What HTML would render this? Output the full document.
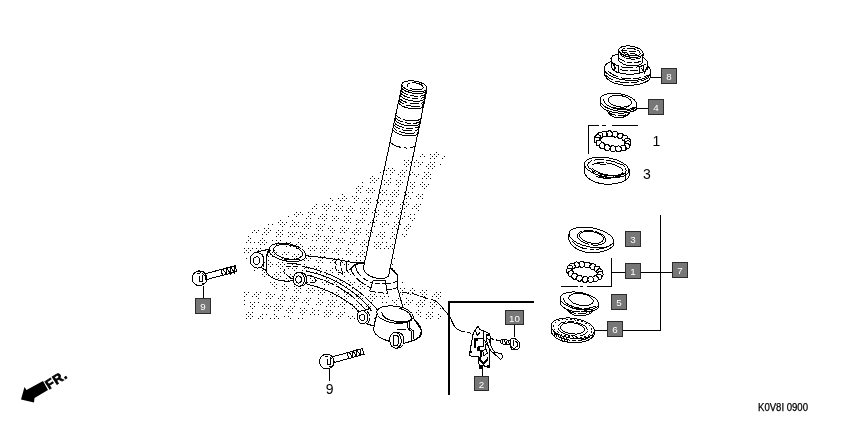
<!DOCTYPE html>
<html><head><meta charset="utf-8"><title>Steering stem</title>
<style>
html,body{margin:0;padding:0;background:#fff;width:842px;height:421px;overflow:hidden}
svg{display:block;filter:grayscale(1)}
text{font-family:"Liberation Sans",sans-serif}
.l{fill:none;stroke:#000;stroke-width:1}
.t{fill:none;stroke:#000;stroke-width:1.6}
.w{fill:#fff;stroke:#000;stroke-width:1}
.wf{fill:#fff;stroke:none}
.d{fill:none;stroke:#000;stroke-width:1;stroke-dasharray:4 2}
.box{fill:#777;stroke:#2a2a2a;stroke-width:1}
.bt{fill:#fff;font-size:9.8px;text-anchor:middle}
.n{fill:#000;font-size:14px;text-anchor:middle}
</style></head>
<body>
<svg width="842" height="421" viewBox="0 0 842 421">
<rect width="842" height="421" fill="#fff"/>

<!-- stipple shading -->
<g id="dots" shape-rendering="crispEdges">
<path fill="#000" d="M436 152h1v1h-1zM422 154h1v1h-1zM430 154h1v1h-1zM434 154h1v1h-1zM438 154h1v1h-1zM420 156h1v1h-1zM424 156h1v1h-1zM432 156h1v1h-1zM436 156h1v1h-1zM444 156h1v1h-1zM430 158h1v1h-1zM434 158h1v1h-1zM442 158h1v1h-1zM404 160h1v1h-1zM408 160h1v1h-1zM416 160h1v1h-1zM406 162h1v1h-1zM410 162h1v1h-1zM414 162h1v1h-1zM418 162h1v1h-1zM422 162h1v1h-1zM430 162h1v1h-1zM434 162h1v1h-1zM404 164h1v1h-1zM408 164h1v1h-1zM420 164h1v1h-1zM428 164h1v1h-1zM432 164h1v1h-1zM440 164h1v1h-1zM406 166h1v1h-1zM414 166h1v1h-1zM418 166h1v1h-1zM426 166h1v1h-1zM430 166h1v1h-1zM434 166h1v1h-1zM388 168h1v1h-1zM392 168h1v1h-1zM428 168h1v1h-1zM432 168h1v1h-1zM386 170h1v1h-1zM390 170h1v1h-1zM394 170h1v1h-1zM402 170h1v1h-1zM406 170h1v1h-1zM380 172h1v1h-1zM392 172h1v1h-1zM400 172h1v1h-1zM404 172h1v1h-1zM412 172h1v1h-1zM424 172h1v1h-1zM428 172h1v1h-1zM386 174h1v1h-1zM390 174h1v1h-1zM398 174h1v1h-1zM402 174h1v1h-1zM410 174h1v1h-1zM414 174h1v1h-1zM418 174h1v1h-1zM426 174h1v1h-1zM430 174h1v1h-1zM372 176h1v1h-1zM400 176h1v1h-1zM404 176h1v1h-1zM416 176h1v1h-1zM424 176h1v1h-1zM428 176h1v1h-1zM370 178h1v1h-1zM374 178h1v1h-1zM378 178h1v1h-1zM390 178h1v1h-1zM422 178h1v1h-1zM426 178h1v1h-1zM430 178h1v1h-1zM372 180h1v1h-1zM376 180h1v1h-1zM384 180h1v1h-1zM388 180h1v1h-1zM396 180h1v1h-1zM400 180h1v1h-1zM362 182h1v1h-1zM370 182h1v1h-1zM374 182h1v1h-1zM386 182h1v1h-1zM390 182h1v1h-1zM398 182h1v1h-1zM402 182h1v1h-1zM410 182h1v1h-1zM414 182h1v1h-1zM422 182h1v1h-1zM384 184h1v1h-1zM388 184h1v1h-1zM396 184h1v1h-1zM400 184h1v1h-1zM412 184h1v1h-1zM420 184h1v1h-1zM424 184h1v1h-1zM428 184h1v1h-1zM358 186h1v1h-1zM362 186h1v1h-1zM398 186h1v1h-1zM410 186h1v1h-1zM414 186h1v1h-1zM422 186h1v1h-1zM426 186h1v1h-1zM356 188h1v1h-1zM360 188h1v1h-1zM368 188h1v1h-1zM372 188h1v1h-1zM380 188h1v1h-1zM412 188h1v1h-1zM424 188h1v1h-1zM358 190h1v1h-1zM366 190h1v1h-1zM370 190h1v1h-1zM374 190h1v1h-1zM382 190h1v1h-1zM386 190h1v1h-1zM394 190h1v1h-1zM398 190h1v1h-1zM356 192h1v1h-1zM360 192h1v1h-1zM368 192h1v1h-1zM372 192h1v1h-1zM380 192h1v1h-1zM384 192h1v1h-1zM392 192h1v1h-1zM396 192h1v1h-1zM404 192h1v1h-1zM408 192h1v1h-1zM412 192h1v1h-1zM342 194h1v1h-1zM378 194h1v1h-1zM382 194h1v1h-1zM386 194h1v1h-1zM390 194h1v1h-1zM394 194h1v1h-1zM398 194h1v1h-1zM406 194h1v1h-1zM418 194h1v1h-1zM422 194h1v1h-1zM344 196h1v1h-1zM352 196h1v1h-1zM356 196h1v1h-1zM392 196h1v1h-1zM396 196h1v1h-1zM404 196h1v1h-1zM408 196h1v1h-1zM416 196h1v1h-1zM420 196h1v1h-1zM330 198h1v1h-1zM338 198h1v1h-1zM342 198h1v1h-1zM346 198h1v1h-1zM354 198h1v1h-1zM358 198h1v1h-1zM366 198h1v1h-1zM370 198h1v1h-1zM378 198h1v1h-1zM406 198h1v1h-1zM410 198h1v1h-1zM418 198h1v1h-1zM422 198h1v1h-1zM332 200h1v1h-1zM340 200h1v1h-1zM344 200h1v1h-1zM356 200h1v1h-1zM364 200h1v1h-1zM368 200h1v1h-1zM376 200h1v1h-1zM380 200h1v1h-1zM384 200h1v1h-1zM388 200h1v1h-1zM392 200h1v1h-1zM354 202h1v1h-1zM362 202h1v1h-1zM366 202h1v1h-1zM370 202h1v1h-1zM378 202h1v1h-1zM382 202h1v1h-1zM390 202h1v1h-1zM394 202h1v1h-1zM402 202h1v1h-1zM406 202h1v1h-1zM316 204h1v1h-1zM324 204h1v1h-1zM328 204h1v1h-1zM336 204h1v1h-1zM368 204h1v1h-1zM376 204h1v1h-1zM380 204h1v1h-1zM388 204h1v1h-1zM392 204h1v1h-1zM400 204h1v1h-1zM404 204h1v1h-1zM408 204h1v1h-1zM416 204h1v1h-1zM420 204h1v1h-1zM314 206h1v1h-1zM322 206h1v1h-1zM326 206h1v1h-1zM330 206h1v1h-1zM338 206h1v1h-1zM342 206h1v1h-1zM350 206h1v1h-1zM386 206h1v1h-1zM390 206h1v1h-1zM402 206h1v1h-1zM406 206h1v1h-1zM414 206h1v1h-1zM418 206h1v1h-1zM312 208h1v1h-1zM316 208h1v1h-1zM324 208h1v1h-1zM328 208h1v1h-1zM336 208h1v1h-1zM340 208h1v1h-1zM348 208h1v1h-1zM352 208h1v1h-1zM360 208h1v1h-1zM364 208h1v1h-1zM368 208h1v1h-1zM400 208h1v1h-1zM404 208h1v1h-1zM412 208h1v1h-1zM416 208h1v1h-1zM326 210h1v1h-1zM334 210h1v1h-1zM338 210h1v1h-1zM342 210h1v1h-1zM346 210h1v1h-1zM350 210h1v1h-1zM354 210h1v1h-1zM362 210h1v1h-1zM366 210h1v1h-1zM374 210h1v1h-1zM378 210h1v1h-1zM386 210h1v1h-1zM418 210h1v1h-1zM296 212h1v1h-1zM300 212h1v1h-1zM308 212h1v1h-1zM312 212h1v1h-1zM348 212h1v1h-1zM352 212h1v1h-1zM360 212h1v1h-1zM364 212h1v1h-1zM372 212h1v1h-1zM376 212h1v1h-1zM384 212h1v1h-1zM388 212h1v1h-1zM392 212h1v1h-1zM400 212h1v1h-1zM404 212h1v1h-1zM294 214h1v1h-1zM298 214h1v1h-1zM302 214h1v1h-1zM310 214h1v1h-1zM314 214h1v1h-1zM322 214h1v1h-1zM326 214h1v1h-1zM362 214h1v1h-1zM366 214h1v1h-1zM374 214h1v1h-1zM378 214h1v1h-1zM386 214h1v1h-1zM390 214h1v1h-1zM398 214h1v1h-1zM410 214h1v1h-1zM414 214h1v1h-1zM288 216h1v1h-1zM296 216h1v1h-1zM308 216h1v1h-1zM320 216h1v1h-1zM324 216h1v1h-1zM332 216h1v1h-1zM336 216h1v1h-1zM344 216h1v1h-1zM348 216h1v1h-1zM376 216h1v1h-1zM384 216h1v1h-1zM388 216h1v1h-1zM396 216h1v1h-1zM404 216h1v1h-1zM408 216h1v1h-1zM306 218h1v1h-1zM310 218h1v1h-1zM318 218h1v1h-1zM322 218h1v1h-1zM326 218h1v1h-1zM334 218h1v1h-1zM338 218h1v1h-1zM346 218h1v1h-1zM350 218h1v1h-1zM362 218h1v1h-1zM398 218h1v1h-1zM402 218h1v1h-1zM410 218h1v1h-1zM414 218h1v1h-1zM280 220h1v1h-1zM292 220h1v1h-1zM324 220h1v1h-1zM332 220h1v1h-1zM336 220h1v1h-1zM344 220h1v1h-1zM348 220h1v1h-1zM356 220h1v1h-1zM360 220h1v1h-1zM364 220h1v1h-1zM372 220h1v1h-1zM376 220h1v1h-1zM412 220h1v1h-1zM278 222h1v1h-1zM282 222h1v1h-1zM286 222h1v1h-1zM294 222h1v1h-1zM298 222h1v1h-1zM306 222h1v1h-1zM310 222h1v1h-1zM346 222h1v1h-1zM350 222h1v1h-1zM358 222h1v1h-1zM362 222h1v1h-1zM370 222h1v1h-1zM374 222h1v1h-1zM382 222h1v1h-1zM386 222h1v1h-1zM394 222h1v1h-1zM398 222h1v1h-1zM268 224h1v1h-1zM272 224h1v1h-1zM280 224h1v1h-1zM284 224h1v1h-1zM292 224h1v1h-1zM296 224h1v1h-1zM304 224h1v1h-1zM308 224h1v1h-1zM316 224h1v1h-1zM320 224h1v1h-1zM324 224h1v1h-1zM356 224h1v1h-1zM368 224h1v1h-1zM372 224h1v1h-1zM380 224h1v1h-1zM384 224h1v1h-1zM388 224h1v1h-1zM396 224h1v1h-1zM400 224h1v1h-1zM408 224h1v1h-1zM282 226h1v1h-1zM290 226h1v1h-1zM294 226h1v1h-1zM298 226h1v1h-1zM302 226h1v1h-1zM306 226h1v1h-1zM310 226h1v1h-1zM318 226h1v1h-1zM322 226h1v1h-1zM330 226h1v1h-1zM342 226h1v1h-1zM374 226h1v1h-1zM382 226h1v1h-1zM394 226h1v1h-1zM398 226h1v1h-1zM406 226h1v1h-1zM410 226h1v1h-1zM264 228h1v1h-1zM268 228h1v1h-1zM304 228h1v1h-1zM308 228h1v1h-1zM316 228h1v1h-1zM320 228h1v1h-1zM328 228h1v1h-1zM332 228h1v1h-1zM340 228h1v1h-1zM344 228h1v1h-1zM348 228h1v1h-1zM356 228h1v1h-1zM360 228h1v1h-1zM392 228h1v1h-1zM396 228h1v1h-1zM404 228h1v1h-1zM408 228h1v1h-1zM254 230h1v1h-1zM258 230h1v1h-1zM266 230h1v1h-1zM270 230h1v1h-1zM278 230h1v1h-1zM282 230h1v1h-1zM318 230h1v1h-1zM322 230h1v1h-1zM330 230h1v1h-1zM334 230h1v1h-1zM342 230h1v1h-1zM346 230h1v1h-1zM354 230h1v1h-1zM358 230h1v1h-1zM366 230h1v1h-1zM370 230h1v1h-1zM406 230h1v1h-1zM252 232h1v1h-1zM256 232h1v1h-1zM264 232h1v1h-1zM268 232h1v1h-1zM276 232h1v1h-1zM280 232h1v1h-1zM288 232h1v1h-1zM292 232h1v1h-1zM296 232h1v1h-1zM300 232h1v1h-1zM332 232h1v1h-1zM340 232h1v1h-1zM344 232h1v1h-1zM352 232h1v1h-1zM356 232h1v1h-1zM360 232h1v1h-1zM368 232h1v1h-1zM372 232h1v1h-1zM380 232h1v1h-1zM384 232h1v1h-1zM392 232h1v1h-1zM262 234h1v1h-1zM266 234h1v1h-1zM278 234h1v1h-1zM282 234h1v1h-1zM290 234h1v1h-1zM294 234h1v1h-1zM302 234h1v1h-1zM306 234h1v1h-1zM314 234h1v1h-1zM318 234h1v1h-1zM354 234h1v1h-1zM358 234h1v1h-1zM366 234h1v1h-1zM370 234h1v1h-1zM378 234h1v1h-1zM382 234h1v1h-1zM394 234h1v1h-1zM402 234h1v1h-1zM406 234h1v1h-1zM248 236h1v1h-1zM276 236h1v1h-1zM280 236h1v1h-1zM288 236h1v1h-1zM292 236h1v1h-1zM300 236h1v1h-1zM304 236h1v1h-1zM312 236h1v1h-1zM316 236h1v1h-1zM320 236h1v1h-1zM324 236h1v1h-1zM328 236h1v1h-1zM332 236h1v1h-1zM368 236h1v1h-1zM376 236h1v1h-1zM380 236h1v1h-1zM384 236h1v1h-1zM392 236h1v1h-1zM396 236h1v1h-1zM404 236h1v1h-1zM250 238h1v1h-1zM262 238h1v1h-1zM298 238h1v1h-1zM302 238h1v1h-1zM306 238h1v1h-1zM318 238h1v1h-1zM326 238h1v1h-1zM330 238h1v1h-1zM338 238h1v1h-1zM342 238h1v1h-1zM350 238h1v1h-1zM354 238h1v1h-1zM382 238h1v1h-1zM390 238h1v1h-1zM394 238h1v1h-1zM248 240h1v1h-1zM260 240h1v1h-1zM264 240h1v1h-1zM272 240h1v1h-1zM276 240h1v1h-1zM280 240h1v1h-1zM312 240h1v1h-1zM316 240h1v1h-1zM324 240h1v1h-1zM328 240h1v1h-1zM336 240h1v1h-1zM340 240h1v1h-1zM344 240h1v1h-1zM356 240h1v1h-1zM364 240h1v1h-1zM368 240h1v1h-1zM246 242h1v1h-1zM250 242h1v1h-1zM254 242h1v1h-1zM258 242h1v1h-1zM262 242h1v1h-1zM266 242h1v1h-1zM278 242h1v1h-1zM286 242h1v1h-1zM290 242h1v1h-1zM298 242h1v1h-1zM326 242h1v1h-1zM330 242h1v1h-1zM338 242h1v1h-1zM342 242h1v1h-1zM350 242h1v1h-1zM354 242h1v1h-1zM362 242h1v1h-1zM366 242h1v1h-1zM374 242h1v1h-1zM378 242h1v1h-1zM382 242h1v1h-1zM386 242h1v1h-1zM260 244h1v1h-1zM264 244h1v1h-1zM272 244h1v1h-1zM276 244h1v1h-1zM284 244h1v1h-1zM288 244h1v1h-1zM296 244h1v1h-1zM300 244h1v1h-1zM348 244h1v1h-1zM352 244h1v1h-1zM360 244h1v1h-1zM364 244h1v1h-1zM368 244h1v1h-1zM376 244h1v1h-1zM380 244h1v1h-1zM392 244h1v1h-1zM270 246h1v1h-1zM286 246h1v1h-1zM290 246h1v1h-1zM298 246h1v1h-1zM302 246h1v1h-1zM310 246h1v1h-1zM314 246h1v1h-1zM322 246h1v1h-1zM326 246h1v1h-1zM362 246h1v1h-1zM366 246h1v1h-1zM374 246h1v1h-1zM378 246h1v1h-1zM386 246h1v1h-1zM390 246h1v1h-1zM244 248h1v1h-1zM248 248h1v1h-1zM252 248h1v1h-1zM256 248h1v1h-1zM260 248h1v1h-1zM296 248h1v1h-1zM300 248h1v1h-1zM308 248h1v1h-1zM312 248h1v1h-1zM316 248h1v1h-1zM320 248h1v1h-1zM324 248h1v1h-1zM328 248h1v1h-1zM336 248h1v1h-1zM340 248h1v1h-1zM348 248h1v1h-1zM376 248h1v1h-1zM380 248h1v1h-1zM384 248h1v1h-1zM388 248h1v1h-1zM392 248h1v1h-1zM246 250h1v1h-1zM250 250h1v1h-1zM258 250h1v1h-1zM262 250h1v1h-1zM270 250h1v1h-1zM274 250h1v1h-1zM310 250h1v1h-1zM314 250h1v1h-1zM322 250h1v1h-1zM326 250h1v1h-1zM334 250h1v1h-1zM338 250h1v1h-1zM346 250h1v1h-1zM350 250h1v1h-1zM362 250h1v1h-1zM244 252h1v1h-1zM248 252h1v1h-1zM268 252h1v1h-1zM272 252h1v1h-1zM276 252h1v1h-1zM284 252h1v1h-1zM288 252h1v1h-1zM320 252h1v1h-1zM324 252h1v1h-1zM332 252h1v1h-1zM336 252h1v1h-1zM348 252h1v1h-1zM352 252h1v1h-1zM360 252h1v1h-1zM364 252h1v1h-1zM270 254h1v1h-1zM274 254h1v1h-1zM282 254h1v1h-1zM286 254h1v1h-1zM294 254h1v1h-1zM298 254h1v1h-1zM310 254h1v1h-1zM338 254h1v1h-1zM346 254h1v1h-1zM350 254h1v1h-1zM358 254h1v1h-1zM362 254h1v1h-1zM268 256h1v1h-1zM272 256h1v1h-1zM280 256h1v1h-1zM292 256h1v1h-1zM296 256h1v1h-1zM300 256h1v1h-1zM308 256h1v1h-1zM312 256h1v1h-1zM320 256h1v1h-1zM324 256h1v1h-1zM356 256h1v1h-1zM360 256h1v1h-1zM364 256h1v1h-1zM246 258h1v1h-1zM282 258h1v1h-1zM286 258h1v1h-1zM294 258h1v1h-1zM298 258h1v1h-1zM306 258h1v1h-1zM310 258h1v1h-1zM322 258h1v1h-1zM330 258h1v1h-1zM334 258h1v1h-1zM338 258h1v1h-1zM342 258h1v1h-1zM394 258h1v1h-1zM268 260h1v1h-1zM304 260h1v1h-1zM308 260h1v1h-1zM316 260h1v1h-1zM320 260h1v1h-1zM332 260h1v1h-1zM336 260h1v1h-1zM344 260h1v1h-1zM348 260h1v1h-1zM356 260h1v1h-1zM360 260h1v1h-1zM266 262h1v1h-1zM270 262h1v1h-1zM278 262h1v1h-1zM282 262h1v1h-1zM318 262h1v1h-1zM322 262h1v1h-1zM330 262h1v1h-1zM334 262h1v1h-1zM342 262h1v1h-1zM346 262h1v1h-1zM354 262h1v1h-1zM358 262h1v1h-1zM362 262h1v1h-1zM264 264h1v1h-1zM268 264h1v1h-1zM272 264h1v1h-1zM276 264h1v1h-1zM280 264h1v1h-1zM284 264h1v1h-1zM292 264h1v1h-1zM296 264h1v1h-1zM304 264h1v1h-1zM336 264h1v1h-1zM340 264h1v1h-1zM344 264h1v1h-1zM348 264h1v1h-1zM356 264h1v1h-1zM360 264h1v1h-1zM392 264h1v1h-1zM266 266h1v1h-1zM270 266h1v1h-1zM278 266h1v1h-1zM282 266h1v1h-1zM290 266h1v1h-1zM294 266h1v1h-1zM302 266h1v1h-1zM306 266h1v1h-1zM314 266h1v1h-1zM318 266h1v1h-1zM354 266h1v1h-1zM280 268h1v1h-1zM288 268h1v1h-1zM292 268h1v1h-1zM296 268h1v1h-1zM304 268h1v1h-1zM308 268h1v1h-1zM316 268h1v1h-1zM320 268h1v1h-1zM332 268h1v1h-1zM392 268h1v1h-1zM254 270h1v1h-1zM262 270h1v1h-1zM294 270h1v1h-1zM302 270h1v1h-1zM306 270h1v1h-1zM318 270h1v1h-1zM326 270h1v1h-1zM330 270h1v1h-1zM338 270h1v1h-1zM346 270h1v1h-1zM394 270h1v1h-1zM264 272h1v1h-1zM276 272h1v1h-1zM280 272h1v1h-1zM312 272h1v1h-1zM316 272h1v1h-1zM320 272h1v1h-1zM332 272h1v1h-1zM340 272h1v1h-1zM344 272h1v1h-1zM262 274h1v1h-1zM266 274h1v1h-1zM274 274h1v1h-1zM278 274h1v1h-1zM286 274h1v1h-1zM290 274h1v1h-1zM326 274h1v1h-1zM330 274h1v1h-1zM338 274h1v1h-1zM342 274h1v1h-1zM350 274h1v1h-1zM264 276h1v1h-1zM272 276h1v1h-1zM276 276h1v1h-1zM280 276h1v1h-1zM288 276h1v1h-1zM292 276h1v1h-1zM312 276h1v1h-1zM344 276h1v1h-1zM274 278h1v1h-1zM278 278h1v1h-1zM286 278h1v1h-1zM290 278h1v1h-1zM310 278h1v1h-1zM314 278h1v1h-1zM318 278h1v1h-1zM326 278h1v1h-1zM288 280h1v1h-1zM312 280h1v1h-1zM316 280h1v1h-1zM324 280h1v1h-1zM328 280h1v1h-1zM336 280h1v1h-1zM340 280h1v1h-1zM348 280h1v1h-1zM270 282h1v1h-1zM274 282h1v1h-1zM310 282h1v1h-1zM314 282h1v1h-1zM322 282h1v1h-1zM326 282h1v1h-1zM334 282h1v1h-1zM338 282h1v1h-1zM342 282h1v1h-1zM350 282h1v1h-1zM354 282h1v1h-1zM402 282h1v1h-1zM272 284h1v1h-1zM276 284h1v1h-1zM284 284h1v1h-1zM324 284h1v1h-1zM328 284h1v1h-1zM336 284h1v1h-1zM340 284h1v1h-1zM348 284h1v1h-1zM352 284h1v1h-1zM360 284h1v1h-1zM274 286h1v1h-1zM282 286h1v1h-1zM286 286h1v1h-1zM294 286h1v1h-1zM338 286h1v1h-1zM346 286h1v1h-1zM358 286h1v1h-1zM362 286h1v1h-1zM276 288h1v1h-1zM284 288h1v1h-1zM288 288h1v1h-1zM296 288h1v1h-1zM300 288h1v1h-1zM308 288h1v1h-1zM312 288h1v1h-1zM320 288h1v1h-1zM324 288h1v1h-1zM352 288h1v1h-1zM360 288h1v1h-1zM364 288h1v1h-1zM400 288h1v1h-1zM404 288h1v1h-1zM412 288h1v1h-1zM282 290h1v1h-1zM286 290h1v1h-1zM294 290h1v1h-1zM298 290h1v1h-1zM306 290h1v1h-1zM310 290h1v1h-1zM314 290h1v1h-1zM318 290h1v1h-1zM322 290h1v1h-1zM326 290h1v1h-1zM338 290h1v1h-1zM402 290h1v1h-1zM410 290h1v1h-1zM414 290h1v1h-1zM422 290h1v1h-1zM426 290h1v1h-1zM244 292h1v1h-1zM248 292h1v1h-1zM256 292h1v1h-1zM260 292h1v1h-1zM268 292h1v1h-1zM296 292h1v1h-1zM300 292h1v1h-1zM308 292h1v1h-1zM312 292h1v1h-1zM320 292h1v1h-1zM324 292h1v1h-1zM332 292h1v1h-1zM336 292h1v1h-1zM344 292h1v1h-1zM348 292h1v1h-1zM400 292h1v1h-1zM408 292h1v1h-1zM412 292h1v1h-1zM420 292h1v1h-1zM424 292h1v1h-1zM436 292h1v1h-1zM440 292h1v1h-1zM246 294h1v1h-1zM254 294h1v1h-1zM258 294h1v1h-1zM266 294h1v1h-1zM270 294h1v1h-1zM274 294h1v1h-1zM282 294h1v1h-1zM318 294h1v1h-1zM322 294h1v1h-1zM330 294h1v1h-1zM334 294h1v1h-1zM338 294h1v1h-1zM346 294h1v1h-1zM350 294h1v1h-1zM358 294h1v1h-1zM362 294h1v1h-1zM370 294h1v1h-1zM374 294h1v1h-1zM402 294h1v1h-1zM410 294h1v1h-1zM414 294h1v1h-1zM422 294h1v1h-1zM426 294h1v1h-1zM434 294h1v1h-1zM438 294h1v1h-1zM244 296h1v1h-1zM252 296h1v1h-1zM256 296h1v1h-1zM268 296h1v1h-1zM272 296h1v1h-1zM280 296h1v1h-1zM284 296h1v1h-1zM292 296h1v1h-1zM296 296h1v1h-1zM332 296h1v1h-1zM336 296h1v1h-1zM344 296h1v1h-1zM348 296h1v1h-1zM356 296h1v1h-1zM360 296h1v1h-1zM368 296h1v1h-1zM372 296h1v1h-1zM376 296h1v1h-1zM380 296h1v1h-1zM384 296h1v1h-1zM388 296h1v1h-1zM420 296h1v1h-1zM424 296h1v1h-1zM432 296h1v1h-1zM436 296h1v1h-1zM440 296h1v1h-1zM258 298h1v1h-1zM266 298h1v1h-1zM270 298h1v1h-1zM278 298h1v1h-1zM282 298h1v1h-1zM290 298h1v1h-1zM294 298h1v1h-1zM298 298h1v1h-1zM306 298h1v1h-1zM310 298h1v1h-1zM318 298h1v1h-1zM346 298h1v1h-1zM354 298h1v1h-1zM358 298h1v1h-1zM362 298h1v1h-1zM370 298h1v1h-1zM374 298h1v1h-1zM382 298h1v1h-1zM398 298h1v1h-1zM406 298h1v1h-1zM438 298h1v1h-1zM244 300h1v1h-1zM280 300h1v1h-1zM284 300h1v1h-1zM292 300h1v1h-1zM296 300h1v1h-1zM304 300h1v1h-1zM308 300h1v1h-1zM320 300h1v1h-1zM328 300h1v1h-1zM332 300h1v1h-1zM336 300h1v1h-1zM368 300h1v1h-1zM372 300h1v1h-1zM392 300h1v1h-1zM396 300h1v1h-1zM400 300h1v1h-1zM408 300h1v1h-1zM412 300h1v1h-1zM420 300h1v1h-1zM424 300h1v1h-1zM250 302h1v1h-1zM254 302h1v1h-1zM258 302h1v1h-1zM294 302h1v1h-1zM302 302h1v1h-1zM306 302h1v1h-1zM318 302h1v1h-1zM322 302h1v1h-1zM330 302h1v1h-1zM334 302h1v1h-1zM342 302h1v1h-1zM346 302h1v1h-1zM382 302h1v1h-1zM386 302h1v1h-1zM394 302h1v1h-1zM406 302h1v1h-1zM410 302h1v1h-1zM418 302h1v1h-1zM422 302h1v1h-1zM430 302h1v1h-1zM434 302h1v1h-1zM244 304h1v1h-1zM252 304h1v1h-1zM264 304h1v1h-1zM268 304h1v1h-1zM276 304h1v1h-1zM280 304h1v1h-1zM308 304h1v1h-1zM316 304h1v1h-1zM320 304h1v1h-1zM328 304h1v1h-1zM332 304h1v1h-1zM340 304h1v1h-1zM344 304h1v1h-1zM352 304h1v1h-1zM356 304h1v1h-1zM360 304h1v1h-1zM368 304h1v1h-1zM396 304h1v1h-1zM404 304h1v1h-1zM408 304h1v1h-1zM416 304h1v1h-1zM420 304h1v1h-1zM424 304h1v1h-1zM432 304h1v1h-1zM436 304h1v1h-1zM250 306h1v1h-1zM254 306h1v1h-1zM262 306h1v1h-1zM266 306h1v1h-1zM270 306h1v1h-1zM274 306h1v1h-1zM278 306h1v1h-1zM282 306h1v1h-1zM290 306h1v1h-1zM294 306h1v1h-1zM326 306h1v1h-1zM330 306h1v1h-1zM334 306h1v1h-1zM338 306h1v1h-1zM342 306h1v1h-1zM354 306h1v1h-1zM358 306h1v1h-1zM366 306h1v1h-1zM370 306h1v1h-1zM418 306h1v1h-1zM422 306h1v1h-1zM430 306h1v1h-1zM434 306h1v1h-1zM252 308h1v1h-1zM264 308h1v1h-1zM268 308h1v1h-1zM276 308h1v1h-1zM280 308h1v1h-1zM288 308h1v1h-1zM292 308h1v1h-1zM300 308h1v1h-1zM304 308h1v1h-1zM312 308h1v1h-1zM344 308h1v1h-1zM352 308h1v1h-1zM356 308h1v1h-1zM364 308h1v1h-1zM368 308h1v1h-1zM376 308h1v1h-1zM432 308h1v1h-1zM440 308h1v1h-1zM274 310h1v1h-1zM278 310h1v1h-1zM286 310h1v1h-1zM290 310h1v1h-1zM302 310h1v1h-1zM306 310h1v1h-1zM314 310h1v1h-1zM318 310h1v1h-1zM326 310h1v1h-1zM330 310h1v1h-1zM358 310h1v1h-1zM366 310h1v1h-1zM370 310h1v1h-1zM418 310h1v1h-1zM248 312h1v1h-1zM252 312h1v1h-1zM288 312h1v1h-1zM292 312h1v1h-1zM300 312h1v1h-1zM304 312h1v1h-1zM312 312h1v1h-1zM324 312h1v1h-1zM328 312h1v1h-1zM332 312h1v1h-1zM340 312h1v1h-1zM344 312h1v1h-1zM376 312h1v1h-1zM416 312h1v1h-1zM420 312h1v1h-1zM428 312h1v1h-1zM432 312h1v1h-1zM246 314h1v1h-1zM250 314h1v1h-1zM262 314h1v1h-1zM266 314h1v1h-1zM274 314h1v1h-1zM302 314h1v1h-1zM310 314h1v1h-1zM314 314h1v1h-1zM318 314h1v1h-1zM326 314h1v1h-1zM330 314h1v1h-1zM338 314h1v1h-1zM342 314h1v1h-1zM418 314h1v1h-1zM426 314h1v1h-1zM430 314h1v1h-1zM438 314h1v1h-1zM248 316h1v1h-1zM252 316h1v1h-1zM260 316h1v1h-1zM276 316h1v1h-1zM284 316h1v1h-1zM288 316h1v1h-1zM324 316h1v1h-1zM328 316h1v1h-1zM336 316h1v1h-1zM340 316h1v1h-1zM348 316h1v1h-1zM352 316h1v1h-1zM420 316h1v1h-1zM428 316h1v1h-1zM432 316h1v1h-1zM440 316h1v1h-1zM246 318h1v1h-1zM250 318h1v1h-1zM258 318h1v1h-1zM262 318h1v1h-1zM270 318h1v1h-1zM274 318h1v1h-1zM278 318h1v1h-1zM290 318h1v1h-1zM298 318h1v1h-1zM302 318h1v1h-1zM338 318h1v1h-1zM350 318h1v1h-1zM354 318h1v1h-1zM374 318h1v1h-1zM426 318h1v1h-1zM430 318h1v1h-1zM438 318h1v1h-1z"/>
</g>

<g id="art" shape-rendering="crispEdges">
<!-- ===== STEM ===== -->
<g id="stem">
<path class="wf" d="M364 262L367 250H394L389.7 268L397.5 275V292H372L352 277L351 268Z"/>
<path class="l" d="M402 85.5L363.5 267.5"/>
<path class="l" d="M427 88.5L389.7 270"/>
<ellipse class="l" cx="414.5" cy="86.3" rx="12.7" ry="5.2" transform="rotate(9 414.5 86.3)"/>
<ellipse class="l" cx="415.2" cy="86.3" rx="8.2" ry="3.4" transform="rotate(9 415.2 86.3)" stroke-dasharray="14 3 6 2"/>
<path class="l" d="M401.5 87.0A12.9 5.2 9 0 0 426.7 90.8"/>
<path class="l" d="M400.9 89.5A12.9 5.2 9 0 0 426.2 93.3" stroke-dasharray="9 2 8 2 12"/>
<path class="l" d="M400.4 92.0A12.9 5.2 9 0 0 425.7 95.8" stroke-dasharray="12 2 6 3 10"/>
<path class="l" d="M399.9 94.5A12.9 5.2 9 0 0 425.2 98.3"/>
<path class="l" d="M399.3 97.0A12.9 5.2 9 0 0 424.7 100.8" stroke-dasharray="10 3 9 2"/>
<path class="l" d="M398.8 99.5A12.9 5.2 9 0 0 424.2 103.3" stroke-dasharray="7 2 14 2 6"/>
<path class="l" d="M398.3 102.0A12.9 5.2 9 0 0 423.7 105.8"/>
<path class="l" d="M395.8 113.5A12.9 5.2 9 0 0 421.4 117.3" stroke-dasharray="8 2 20"/>
<path class="l" d="M395.3 116.0A12.9 5.2 9 0 0 420.9 119.8" stroke-dasharray="10 2 6 2 12"/>
<path class="l" d="M394.7 118.5A12.9 5.2 9 0 0 420.4 122.3"/>
<path class="l" d="M394.2 121.0A12.9 5.2 9 0 0 419.9 124.8" stroke-dasharray="12 3 6 2 8"/>
<path class="l" d="M393.7 123.5A12.9 5.2 9 0 0 419.4 127.3" stroke-dasharray="9 2 10 3 8"/>
<path class="l" d="M393.1 126.0A12.9 5.2 9 0 0 418.9 129.8" stroke-dasharray="6 3 16"/>
<path class="l" d="M392.6 128.5A12.9 5.2 9 0 0 418.4 132.3"/>
<path class="l" d="M390.0 140.5A12.9 5.2 9 0 0 416.0 144.3" stroke-dasharray="14 3 3 3 20"/>
</g>
<!-- ===== BRIDGE ===== -->
<g id="bridge">
<!-- collar / stem base -->
<path class="l" d="M363.5 266.5C363 271 365.5 274 371 276.5C377 279 384 279 388.5 276.5L389.7 270"/>
<path class="t" d="M364.5 262.8C358 262.5 353 265 350 270" stroke-width="2"/>
<path class="l" d="M364 262.5L350 262"/>
<path class="l" d="M351 268C352 276 360 283 371.5 288" stroke-dasharray="9 2 12 2 8"/>
<path class="l" d="M355.5 266C356.5 273.5 363 279.5 373 283.5" stroke-dasharray="12 2 7 2"/>
<path class="l" d="M390 267.5L397 274.5V286L403 307"/>
<path class="l" d="M397.5 277V283" stroke-width="1.6"/>
<path class="l" d="M373.3 280.3H385L387.6 293.5"/>
<path class="l" d="M373.3 280.3L369.8 291"/>
<path class="l" d="M369.8 291.3L387 293.5" stroke-dasharray="6 2"/>
<path class="l" d="M375 283.5L384.5 284" stroke-dasharray="5 2"/>
<path class="l" d="M385.5 284C390 284 394.5 283 397 281" stroke-dasharray="5 2"/>
<path class="l" d="M386.5 289.5C391 289.5 394.5 289 397.5 287.5" stroke-dasharray="5 2"/>
<!-- arm top edge -->
<path class="l" d="M305.5 255.7L320 257.2L340 260L350 262"/>
<!-- bump on arm -->
<path class="l" d="M337 259.5C334.5 262 334.5 268 338 272.5" stroke-dasharray="5 2"/>
<path class="l" d="M341.5 260.5C340 264 340.5 269 343.5 273.5" stroke-dasharray="6 2"/>
<path class="l" d="M347 262.5C346 266 346.5 270 348.5 273" stroke-width="1.5"/>
<path class="l" d="M338 272.5L343.5 273.5"/>
<!-- arm face lines -->
<path class="l" d="M303 266.5C320 269.5 340 277.5 356 289.5C364 295.5 371 302 377.5 310" stroke-dasharray="20 2 30 2 14 2"/>
<path class="l" d="M306 271C322 274 338 281 352 291.5C360 297.5 366.5 304 372 311"/>
<path class="l" d="M308 275.5C322 278.5 336 284.5 349 294C356 299.5 362 305 366.5 311" stroke-dasharray="16 2 10 2 22 2"/>
<!-- arm lower edge -->
<path class="l" d="M305 283.5C320 287 337 294 350 303.5C353.5 306.5 356.5 309 358.5 312"/>
<!-- left clamp -->
<ellipse class="l" cx="287.4" cy="252.4" rx="18.6" ry="8.8" transform="rotate(11 287.4 252.4)"/>
<ellipse class="l" cx="288.1" cy="251.9" rx="14.9" ry="7" transform="rotate(11 288.1 251.9)"/>
<path class="l" d="M284 259L302.5 260.2" stroke-width="1.6"/>
<path class="l" d="M287 263.5L301 264.2" stroke-width="1.4"/>
<path class="l" d="M284.5 258.5L287 261.5"/>
<path class="l" d="M269.2 248.5C267 254 265.5 262 265.7 268.5C266 274 271 278 278 280C284 281.5 289 281.5 293.5 280.5"/>
<path class="l" d="M286 266.5L300 267" stroke-dasharray="5 2"/>
<path class="l" d="M285.5 268.5C283 270 283.5 273 286 275L293 279" stroke-dasharray="7 2"/>
<!-- left boss -->
<path class="w" d="M256 252.3L268.5 249.3L266 258L266.5 270.6L261.5 267.8Z" stroke="none"/>
<path class="l" d="M256 252.3L268.5 249.3"/>
<path class="l" d="M261.5 267.8L266.4 270.6"/>
<ellipse class="w" cx="257" cy="260.2" rx="6.8" ry="8" transform="rotate(-8 257 260.2)"/>
<ellipse class="l" cx="256.6" cy="260.6" rx="3.2" ry="3.8" transform="rotate(-8 256.6 260.6)"/>
<path class="l" d="M262 254C264.5 257 265 263 263 267" stroke-dasharray="6 2"/>
<!-- front boss -->
<path class="wf" d="M299 272.3L304.5 273L306.5 279L305 285.5L299 286.3Z"/>
<path class="l" d="M300 272.4C304 272.6 306.5 275.5 306.5 279.5C306.5 283.5 304 286 300 286.3"/>
<ellipse class="w" cx="298.8" cy="279.3" rx="5.6" ry="7"/>
<ellipse class="l" cx="298.6" cy="279.5" rx="2.8" ry="3.6"/>
<path class="l" d="M307 275.5C311 275 315 276.5 316 279.5C316.5 282 313 283.5 309 283L306.5 282.5" stroke-dasharray="8 2"/>
<!-- right clamp -->
<path class="w" d="M377.4 312C376 318 374 324 373.6 330.5C375 335 382 339.5 391 342L402.8 343.6L411 341.3C419 339 421.7 335 421.2 330L413.6 318.6Z" stroke="none"/>
<ellipse class="w" cx="395" cy="314.6" rx="18.5" ry="8.5" transform="rotate(8 395 314.6)"/>
<path class="l" d="M381.5 312C382.5 317 388 320.5 396 321.5C403 322.3 408.5 321.5 411.3 319.5C412 314.5 407 310.5 399 308.2"/>
<path class="l" d="M377.2 313C375.5 319 373.8 325 373.6 330.5C375 335 381 339 390 341.5"/>
<path class="l" d="M413.3 318.5C417 322 420 326 420.7 328C421.7 331 421.7 334 420.5 336C419 338.5 415 340 411 341.3L403 343.6"/>
<path class="l" d="M396 322L408 322.5" stroke-width="1.5"/>
<path class="l" d="M407 322.5L408.3 329L411.3 331.5V340.5"/>
<path class="l" d="M409.200 321.500L410 328.500L413.400 330.700V339.200"/>
<path class="l" d="M397 329.500L406 329"/>
<!-- right clamp bottom boss -->
<path class="wf" d="M396 332L402 333.500L404 340L402 346L396 348Z"/>
<path class="l" d="M397 332C401.500 332.500 404 336 404 340.500C404 345 401 348 397 348.300"/>
<ellipse class="w" cx="395.500" cy="340.200" rx="5.800" ry="8" transform="rotate(-5 395.500 340.200)"/>
<path class="l" d="M393 335.500H397.500C399 337 399.300 343 397.500 345H393Z"/>
<!-- right clamp left boss -->
<path class="wf" d="M362 310.500L369 309L372 316L370 322.500L363 324Z"/>
<path class="l" d="M363.500 310.600L370.500 308.500"/>
<path class="l" d="M366 323.500L373.500 326"/>
<path class="l" d="M367 311.500C370 313 370.500 320 368 323" stroke-dasharray="5 2"/>
<ellipse class="w" cx="362.500" cy="317.200" rx="5.300" ry="6.600" transform="rotate(-8 362.500 317.200)"/>
<ellipse class="l" cx="362.300" cy="317.500" rx="2.600" ry="3.300" transform="rotate(-8 362.300 317.500)"/>
</g>
<!-- ===== CABLE dashed ===== -->
<g id="cable">
<path class="l" d="M401.900 292.200L414 294L425.500 298L435 300.600" stroke-dasharray="7 3"/>
<path class="l" d="M435 300.600C438.500 302.500 441 306 445 311L448.500 315"/>
<path class="l" d="M449 315L453.700 325C455.500 328 458 330 461 331"/>
<path class="l" d="M461 331L473 333.800" stroke-dasharray="4 2"/>
<path class="l" d="M490.500 338.500L500.500 341" stroke-dasharray="4 2"/>
</g>
<!-- ===== BOLTS ===== -->
<g id="bolt1" transform="translate(199.500 278.300) rotate(-14.700)">
<path class="w" d="M6 -3H37.700V3H6Z"/>
<path class="l" d="M23 -3V3M25 -3L27 3L29 -3L31 3L33 -3L35 3L36.500 -3"/>
<circle class="w" cx="0" cy="0" r="7.400"/>
</g>
<g id="bolt2" transform="translate(326.800 361.500) rotate(-15.500)">
<path class="w" d="M6 -3H37.800V3H6Z"/>
<path class="l" d="M22 -3V3M24 -3L26 3L28 -3L30 3L32 -3L34 3L36 -3"/>
<circle class="w" cx="0" cy="0" r="7.400"/>
</g>
<!-- ===== BEARING STACK ===== -->
<g id="balls1">
<circle class="w" cx="615.2" cy="134.3" r="2.9"/>
<circle class="w" cx="609.5" cy="133.7" r="2.9"/>
<circle class="w" cx="620.5" cy="135.9" r="2.9"/>
<circle class="w" cx="604.2" cy="134.1" r="2.9"/>
<circle class="w" cx="624.8" cy="138.2" r="2.9"/>
<circle class="w" cx="600.1" cy="135.4" r="2.9"/>
<circle class="w" cx="627.4" cy="141.0" r="2.9"/>
<circle class="w" cx="597.7" cy="137.6" r="2.9"/>
<circle class="w" cx="628.0" cy="143.7" r="2.9"/>
<circle class="w" cx="597.2" cy="140.2" r="2.9"/>
<circle class="w" cx="626.6" cy="146.2" r="2.9"/>
<circle class="w" cx="598.9" cy="143.0" r="2.9"/>
<circle class="w" cx="623.2" cy="148.0" r="2.9"/>
<circle class="w" cx="602.4" cy="145.6" r="2.9"/>
<circle class="w" cx="618.4" cy="148.8" r="2.9"/>
<circle class="w" cx="607.3" cy="147.6" r="2.9"/>
<circle class="w" cx="612.9" cy="148.7" r="2.9"/>
</g>
<g id="balls2">
<circle class="w" cx="587.4" cy="265.0" r="2.9"/>
<circle class="w" cx="581.7" cy="264.4" r="2.9"/>
<circle class="w" cx="592.7" cy="266.6" r="2.9"/>
<circle class="w" cx="576.4" cy="264.8" r="2.9"/>
<circle class="w" cx="597.0" cy="268.9" r="2.9"/>
<circle class="w" cx="572.3" cy="266.1" r="2.9"/>
<circle class="w" cx="599.6" cy="271.7" r="2.9"/>
<circle class="w" cx="569.9" cy="268.3" r="2.9"/>
<circle class="w" cx="600.2" cy="274.4" r="2.9"/>
<circle class="w" cx="569.4" cy="270.9" r="2.9"/>
<circle class="w" cx="598.8" cy="276.9" r="2.9"/>
<circle class="w" cx="571.1" cy="273.7" r="2.9"/>
<circle class="w" cx="595.4" cy="278.7" r="2.9"/>
<circle class="w" cx="574.6" cy="276.3" r="2.9"/>
<circle class="w" cx="590.6" cy="279.5" r="2.9"/>
<circle class="w" cx="579.5" cy="278.3" r="2.9"/>
<circle class="w" cx="585.1" cy="279.4" r="2.9"/>
</g>
<g id="nut8">
<!-- base flange -->
<path class="w" d="M604.3 68.5V73C605 80 615 85.3 628 85.3C641 85.3 650.5 81.5 650.8 76V71.5Z"/>
<ellipse class="w" cx="627.5" cy="70" rx="23.3" ry="10.3" transform="rotate(5 627.5 70)"/>
<path class="l" d="M606 75.5C610 80 618.5 82.8 628 82.8C637 82.8 645.5 80.5 649.5 76.8" stroke-dasharray="9 2 14 2 8 2"/>
<path class="l" d="M608 71C613 76 620 78.500 629 78.800C637 79 644 77.500 648 75" stroke-dasharray="12 3 10 2 8 3"/>
<!-- mid tier castle -->
<path class="w" d="M611 58.5L612.500 56L619 53.500L643 57L647.700 62V69C644 72.500 636 74.500 628 74.200C620 74 613.500 71.500 611.500 67.500Z"/>
<path class="l" d="M611 60.500C613.500 64.500 620 67.500 628 67.800C636 68 644 66 647.700 63" stroke-dasharray="10 2 12 3"/>
<path class="l" d="M614.500 63V70M618 65V72M639.500 66V73.500M643.500 64.500V72" />
<path class="l" d="M641.500 68L644.500 73L646.500 67.500" stroke-width="1.500"/>
<path class="l" d="M612.500 63L616 68.500" stroke-width="1.700"/>
<path class="l" d="M620 69.500C625 71 633 71.200 638 70" stroke-width="1.300" stroke-dasharray="8 2"/>
<!-- top cylinder -->
<path class="w" d="M618.700 50.500L618.200 60C621 63.500 626 65.500 631 65.800C636 66 641 64.500 642.700 62.500L643.100 54Z"/>
<ellipse class="w" cx="630.900" cy="51.700" rx="12.300" ry="5.500" transform="rotate(9 630.900 51.700)"/>
<ellipse class="l" cx="631.100" cy="52" rx="9.300" ry="3.700" transform="rotate(9 631.100 52)" stroke-dasharray="6 2 9 2"/>
<path class="l" d="M622.500 50.500L637 52M623 52.500L639 54.500M625 54.500L638 56" stroke-dasharray="5 2 7 2"/>
<path class="l" d="M620.500 54.500C623.500 57.500 628 59 632.500 59.200C636.500 59.300 640 58.500 642 57" stroke-width="1.500" stroke-dasharray="5 2 8 2"/>
<path class="l" d="M619 58C622 61 627 62.500 632 62.700C636.500 62.800 640.500 62 642.700 60" stroke-dasharray="7 2 5 2"/>
</g>
<g id="race4">
<path class="w" d="M606.400 108C606.400 112 611.500 117.800 618.500 117.800C625.500 117.800 630.600 113.500 630.600 109.500Z"/>
<path class="l" d="M608.500 112.500C612 115 618 116 623 115.500C626.500 115 629 113.500 630 112" stroke-dasharray="8 2"/>
<path class="w" d="M600 101.500V104.500C602 109 610 112.800 619 113.200C628 113.500 636 111 636.700 108.500V105.500Z"/>
<ellipse class="w" cx="618.300" cy="102.300" rx="18.500" ry="8.700" transform="rotate(9 618.300 102.300)"/>
<ellipse class="l" cx="619.900" cy="101.200" rx="11.600" ry="5.700" transform="rotate(9 619.900 101.200)"/>
<path class="l" d="M603.500 99C604 104 610 108.500 619.500 109.500C626 110 631.500 109 634.500 107" />
<path class="l" d="M612 107.200C616 108.300 622 108.800 627.500 107.800" stroke-width="1.600"/>
</g>
<g id="race3a">
<path class="w" d="M584.300 165V172C586 179 596 184.200 608 184.200C620 184.200 628.500 180 629.100 176V169.500Z"/>
<ellipse class="w" cx="606.700" cy="167.300" rx="22.500" ry="9.600" transform="rotate(10 606.700 167.300)"/>
<ellipse class="l" cx="607" cy="167.800" rx="19.500" ry="7.600" transform="rotate(10 607 167.800)" stroke-dasharray="30 2 18 2 10 2"/>
<ellipse class="l" cx="607.500" cy="169" rx="16" ry="5.800" transform="rotate(10 607.500 169)" stroke-dasharray="12 2 20 3"/>
<path class="l" d="M594.500 163.500L606 164.500" stroke-width="1.600"/>
<path class="l" d="M596 176.500C601 178.500 612 179 620 176.500" stroke-width="1.500"/>
<path class="l" d="M592 170C593 174 599 177 608 177.500C615 177.800 621 176 623.500 173" stroke-dasharray="6 2"/>
<path class="l" d="M625.500 172V180"/>
</g>
<g id="race3b">
<path class="w" d="M568.700 235V239C570 246 580 252.800 592 252.800C604 252.800 613 248 613.800 244V240Z"/>
<ellipse class="w" cx="591.200" cy="237.500" rx="22.600" ry="9.600" transform="rotate(11 591.200 237.500)"/>
<ellipse class="l" cx="591.500" cy="237.300" rx="12.200" ry="5.800" transform="rotate(11 591.500 237.300)"/>
<ellipse class="l" cx="591.500" cy="237.800" rx="14.500" ry="7" transform="rotate(11 591.500 237.800)" stroke-dasharray="16 3 22 2 9 2"/>
<path class="l" d="M572 241C576 246.500 584 249.500 593 249.500C601 249.500 608 247.500 611.500 244" stroke-dasharray="18 2 4 2 20 2"/>
</g>
<g id="race5">
<path class="w" d="M565.500 306C566 311 572 316 580 316C588 316 594 312 594.500 308Z"/>
<path class="l" d="M567.500 310.500C571 313 577 314 583 313.500C588 313 591.500 311.500 593 310" stroke-dasharray="9 2"/>
<path class="w" d="M560 300V303.500C562 308 570 311.800 580 312C590 312.200 598 310 598.800 307V304Z"/>
<ellipse class="w" cx="579.400" cy="301" rx="19.500" ry="8.600" transform="rotate(10 579.400 301)"/>
<ellipse class="l" cx="581" cy="299.500" rx="12.500" ry="5.800" transform="rotate(10 581 299.500)"/>
<path class="l" d="M563.500 298.500C564 303 571 307.500 580.500 308.300C587.500 308.800 593.500 307.500 596.500 305.500" stroke-dasharray="22 2 12 2"/>
<path class="l" d="M570 307C575 309.200 584 310 591 308.500" stroke-width="1.500" stroke-dasharray="10 2 8 2"/>
</g>
<g id="seal6">
<path class="w" d="M551 326V331C553 338 562 342.700 574 342.700C586 342.700 593.500 338.500 594.300 334V330Z"/>
<ellipse class="w" cx="572.700" cy="328.300" rx="21.800" ry="10" transform="rotate(8 572.700 328.300)"/>
<ellipse class="l" cx="572.500" cy="328.300" rx="12.200" ry="5.600" transform="rotate(8 572.500 328.300)"/>
<ellipse class="l" cx="572.700" cy="328.800" rx="15" ry="7" transform="rotate(8 572.700 328.800)" stroke-dasharray="10 2 6 2 14 2"/>
<ellipse class="l" cx="572.700" cy="328.300" rx="19.500" ry="8.600" transform="rotate(8 572.700 328.300)" stroke-dasharray="2 2"/>
<path class="l" d="M554 333C558 338 566 340.500 575 340.500C583 340.500 589.500 338.500 592.500 335" stroke-dasharray="4 2 12 2"/>
<path class="l" d="M553.500 330.500L555 335.500M555.500 332L557 337M557.500 333.500L559.500 338M560 335L562 339.500M563 336L565 340.500M566 337L568 341.500" />
</g>
<!-- ===== PART 2 (clamp) and SCREW 10 ===== -->
<g id="part2">
<path class="w" stroke-width="1.300" d="M473.300 333L477.900 326.200L480 329.500L489.600 333.600L490.200 337L489.600 366.300L479.100 365.700L478.500 357L469.300 355.800L470 351Z"/>
<path class="l" d="M475.500 331L477.500 335.500L480 332.500" stroke-width="1.600"/>
<path d="M474 338H477.500V341H475.500V347.500H474Z" fill="#000"/>
<path class="l" d="M477.500 338H483V346.500H478" />
<path class="l" d="M483.500 331.500V347" stroke-width="1.300"/>
<path d="M485.500 333.500H488.500V336H487V339H485.500Z" fill="#000"/>
<path d="M477 347H480V349.500H481.500V357H479.500V351H477Z" fill="#000"/>
<path class="l" d="M482.500 350.500L486 349L487.500 353L484 355.500Z" stroke-width="1.500"/>
<path class="l" d="M485 344V349" stroke-width="1.500"/>
<path d="M479 357H481V359.500L483.500 362.500L486.500 359V357H488V360L484 364.500H483L479 360.500Z" fill="#000"/>
<path d="M479 365H482.500V368.500H479ZM486.500 365H489.800V368H486.500Z" fill="#000"/>
<circle class="l" cx="470.800" cy="352.200" r="0.800"/>
<!-- lever -->
<path class="w" stroke-width="1.300" d="M486.300 338.500C487 345 489.500 350.500 494 353.500L500.500 359.500L503 357L501.500 353.500L495 352.500C492 349 490 344.500 489 339.500Z"/>
<path class="l" d="M484.500 340.500L488.500 347" stroke-width="1.500"/>
</g>
<g id="screw10">
<path class="w" stroke-width="1.400" d="M500.700 340.200C502 339.300 504 339.500 510.500 340.500L511 345L501.500 343.800C500.300 343 500 341 500.700 340.200Z"/>
<path class="l" stroke-width="1.300" d="M502.500 340V343.800M504.500 340.200L505.500 344M506.500 340.500V344.200M508.500 340.800L509.300 344.500" />
<path class="w" stroke-width="1.400" d="M510.500 339.500C512 338 515 338 516 339.500L519 341.500L519.300 347.500L517 350L512 349.500L510.500 346.500Z"/>
<path class="l" d="M513 340V345.500M515.500 341.500L517.500 342.500V346.500" stroke-width="1.300"/>
<path class="l" d="M511.500 346.500L514 349L516.500 346.500" stroke-width="1.300"/>
</g>

<g id="bolt2h" transform="translate(0 0)">
<path class="l" d="M322.900 355.400C324.500 354 328 353.800 330.500 355.200C331.500 355.800 332.200 356.500 332.600 357.300" stroke-dasharray="5 1.500"/>
<path class="l" d="M324.500 357.200C326 356 328.500 355.800 330 356.800L332.200 359.200" stroke-dasharray="4 1.500"/>
<path class="l" d="M327 359V364.200H330M330 357.800V365" />
<path class="l" d="M329 366.200L332.300 366.800M333.200 357.500V363.500" stroke-width="1.300"/>
</g>
<g id="bolt1h" transform="translate(-127.300 -83.200)">
<path class="l" d="M322.900 355.400C324.500 354 328 353.800 330.500 355.200C331.500 355.800 332.200 356.500 332.600 357.300" stroke-dasharray="5 1.500"/>
<path class="l" d="M324.500 357.200C326 356 328.500 355.800 330 356.800L332.200 359.200" stroke-dasharray="4 1.500"/>
<path class="l" d="M327 359V364.200H330M330 357.800V365" />
<path class="l" d="M329 366.200L332.300 366.800M333.200 357.500V363.500" stroke-width="1.300"/>
</g>

</g>
<!-- LABEL BOXES AND LEADERS -->
<g id="labels">
<g class="l" shape-rendering="crispEdges">
<path d="M650.5 77.5H661"/>
<path d="M636.5 108.5H648"/>
<path d="M588.5 153.5V125.5H599M601.5 125.5h4M611.5 125.5H638"/>
<path d="M611.5 258V286.5H587M583 286.5h-3.5M578 286.5H561"/>
<path d="M611.5 272.5H625M641 272.5H672"/>
<path d="M660.5 215V330.5H623M607 330.5H594"/>
<path d="M203.5 286V298"/>
<path d="M329.5 368.5V381"/>
<path d="M514.5 325V337"/>
<path d="M482.5 368.5V376"/>
</g>
<path d="M534 302H449V395" fill="none" stroke="#000" stroke-width="2" shape-rendering="crispEdges"/>
<g shape-rendering="crispEdges">
<rect class="box" x="661.5" y="68.5" width="15" height="15"/>
<rect class="box" x="648.5" y="99.5" width="15" height="15"/>
<rect class="box" x="625.5" y="231.5" width="15" height="15"/>
<rect class="box" x="625.5" y="263.5" width="15" height="15"/>
<rect class="box" x="672.5" y="262.5" width="15" height="15"/>
<rect class="box" x="611.5" y="294.5" width="15" height="15"/>
<rect class="box" x="607.5" y="321.5" width="15" height="15"/>
<rect class="box" x="505.5" y="310.5" width="18" height="14"/>
<rect class="box" x="474.5" y="376.5" width="14" height="14"/>
<rect class="box" x="195.5" y="298.5" width="15" height="15"/>
</g>
<g class="bt" opacity="0.999">
<text x="669" y="80">8</text>
<text x="656" y="111">4</text>
<text x="633" y="243">3</text>
<text x="633" y="275">1</text>
<text x="680" y="274">7</text>
<text x="619" y="306">5</text>
<text x="615" y="333">6</text>
<text x="514.5" y="321.5">10</text>
<text x="481.5" y="387.5">2</text>
<text x="203" y="310">9</text>
</g>
<g class="n" opacity="0.999">
<text x="656.5" y="146">1</text>
<text x="647" y="179">3</text>
<text x="329.7" y="394">9</text>
</g>
<text opacity="0.999" x="758" y="411" font-size="10" textLength="50" lengthAdjust="spacingAndGlyphs" fill="#000" stroke="#000" stroke-width="0.25">K0V8I 0900</text>
<!-- FR arrow -->
<path d="M21 399.5L24.5 387L26.5 390L43 381L48 390L34.5 398L34 402.5Z" fill="#000"/>
<g opacity="0.999"><text transform="translate(49 389.8) rotate(-33)" font-size="13.2" font-weight="bold" fill="#000" stroke="#000" stroke-width="0.7" letter-spacing="0.6">FR.</text></g>

</g>

</svg>
</body></html>
